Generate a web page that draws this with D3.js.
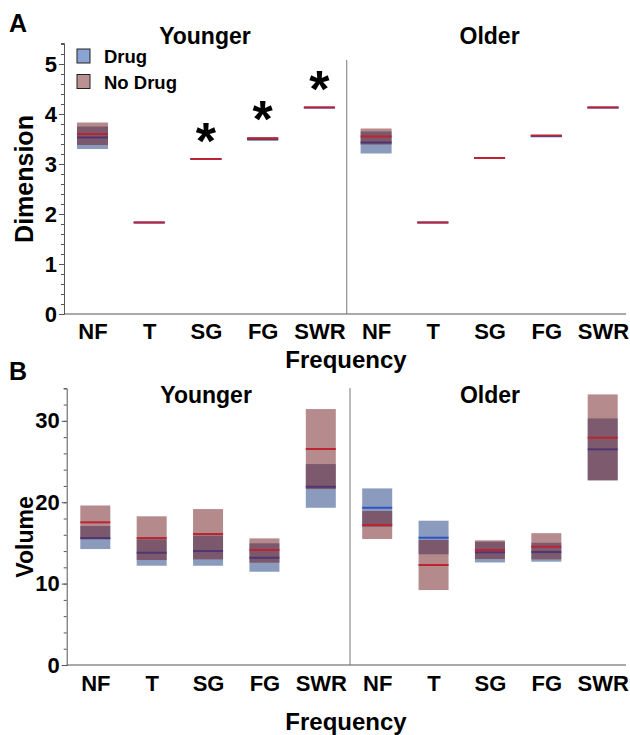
<!DOCTYPE html>
<html><head><meta charset="utf-8">
<script src="https://cdn.jsdelivr.net/npm/d3@7"></script>
<style>
body{margin:0;background:#fff;}
svg text{font-family:"Liberation Sans",Arial,Helvetica,sans-serif;font-weight:bold;fill:#000;}
</style></head>
<body><svg id="c" width="630" height="735"></svg>
<script>
// ---------- data ----------
const groups = ["Younger", "Older"];
const categories = ["NF", "T", "SG", "FG", "SWR"];
const seriesNames = ["Drug", "No Drug"];

// Panel A: Dimension (Younger NF..SWR, then Older NF..SWR)
const dimDrugMean = [3.53, 1.83, 3.10, 3.50, 4.13, 3.43, 1.83, 3.12, 3.555, 4.13];
const dimDrugLo   = [3.30, 1.82, 3.09, 3.46, 4.12, 3.21, 1.82, 3.11, 3.54, 4.12];
const dimDrugHi   = [3.75, 1.84, 3.11, 3.53, 4.14, 3.65, 1.84, 3.13, 3.565, 4.14];
const dimNoMean   = [3.60, 1.83, 3.10, 3.51, 4.13, 3.55, 1.83, 3.12, 3.57, 4.13];
const dimNoLo     = [3.38, 1.82, 3.09, 3.48, 4.12, 3.39, 1.82, 3.11, 3.555, 4.12];
const dimNoHi     = [3.83, 1.84, 3.11, 3.54, 4.14, 3.71, 1.84, 3.13, 3.58, 4.14];
const dimSignificant = [false, false, true, true, true, false, false, false, false, false];
const dimTicks = [0, 1, 2, 3, 4, 5];

// Panel B: Volume
const volDrugMean = [15.6, 13.8, 14.0, 13.18, 21.9, 19.32, 15.64, 13.84, 13.88, 26.5];
const volDrugLo   = [14.25, 12.2, 12.2, 11.46, 19.32, 16.99, 13.6, 12.6, 12.69, 22.69];
const volDrugHi   = [17.08, 15.44, 15.9, 14.95, 24.69, 21.7, 17.73, 15.15, 15.02, 30.3];
const volNoMean   = [17.53, 15.6, 16.1, 14.13, 26.54, 17.2, 12.29, 14.13, 14.53, 27.93];
const volNoLo     = [15.44, 12.9, 12.98, 12.57, 21.62, 15.48, 9.21, 13.02, 12.98, 22.69];
const volNoHi     = [19.6, 18.27, 19.16, 15.56, 31.45, 18.92, 15.36, 15.32, 16.2, 33.25];
const volSignificant = [false, false, false, false, false, false, false, false, false, false];
const volTicks = [0, 10, 20, 30];

// ---------- drawing ----------
const svg = d3.select("#c");
const keys = [];
groups.forEach(g => categories.forEach(c => keys.push(g + "|" + c)));

const drugFill = "rgb(25,57,125)", noFill = "rgb(109,24,30)";
const drugLine = "rgb(45,85,200)", noLine = "rgb(190,35,50)";
const FONT = '"Liberation Sans",Arial,sans-serif';

function panel(o) {
  const g = svg.append("g");
  const y = d3.scaleLinear().domain([0, o.yMax]).range([o.y0, o.yTop]);
  const x = d3.scalePoint().domain(keys).range(o.xRange);
  const bw = o.bw;

  // y axis
  const ax = g.append("g").attr("transform", `translate(${o.axisX},0)`)
    .call(d3.axisLeft(y).tickValues(d3.range(0, o.yMax + 1e-9, o.minor)).tickSize(3).tickFormat(""));
  ax.select(".domain").attr("stroke", "#555");
  ax.selectAll(".tick line").attr("stroke", "#555");
  const ax2 = g.append("g").attr("transform", `translate(${o.axisX},0)`)
    .call(d3.axisLeft(y).tickValues(o.ticks).tickSize(5).tickPadding(2).tickFormat(d3.format("d")));
  ax2.select(".domain").remove();
  ax2.selectAll(".tick line").attr("stroke", "#555");
  ax2.selectAll(".tick text").style("font-size", "22px").style("font-weight", "bold")
    .style("font-family", FONT).attr("fill", "#000");

  // x axis line
  g.append("line").attr("x1", o.axisX).attr("x2", 626).attr("y1", o.y0).attr("y2", o.y0)
    .attr("stroke", "#555").attr("stroke-width", 1);
  const xa = g.append("g").attr("transform", `translate(0,${o.y0})`)
    .call(d3.axisBottom(x).tickSize(0).tickPadding(o.labPad).tickFormat(k => k.split("|")[1]));
  xa.select(".domain").remove();
  xa.selectAll(".tick text").style("font-size", "22px").style("font-weight", "bold")
    .style("font-family", FONT).attr("fill", "#000");

  // divider
  const mid = (x(keys[4]) + x(keys[5])) / 2 + o.divShift;
  g.append("line").attr("x1", mid).attr("x2", mid).attr("y1", o.divTop).attr("y2", o.y0)
    .attr("stroke", "#777").attr("stroke-width", 1);

  // group titles
  groups.forEach((gr, gi) => {
    const cx = (x(keys[gi * 5]) + x(keys[gi * 5 + 4])) / 2 + o.titleShift[gi];
    g.append("text").attr("x", cx).attr("y", o.titleY).attr("text-anchor", "middle")
      .style("font-size", "23px").text(gr);
  });

  // Drug (drawn first)
  const dG = g.append("g").attr("opacity", 0.5);
  keys.forEach((k, i) => {
    dG.append("rect").attr("x", x(k) - bw / 2).attr("width", bw)
      .attr("y", y(o.dHi[i])).attr("height", Math.max(0.5, y(o.dLo[i]) - y(o.dHi[i])))
      .attr("fill", drugFill);
  });
  keys.forEach((k, i) => {
    g.append("line").attr("x1", x(k) - bw / 2).attr("x2", x(k) + bw / 2)
      .attr("y1", y(o.dMean[i])).attr("y2", y(o.dMean[i]))
      .attr("stroke", drugLine).attr("stroke-width", 2);
  });
  // No Drug on top
  const nG = g.append("g").attr("opacity", 0.5);
  keys.forEach((k, i) => {
    nG.append("rect").attr("x", x(k) - bw / 2).attr("width", bw)
      .attr("y", y(o.nHi[i])).attr("height", Math.max(0.5, y(o.nLo[i]) - y(o.nHi[i])))
      .attr("fill", noFill);
  });
  keys.forEach((k, i) => {
    g.append("line").attr("x1", x(k) - bw / 2).attr("x2", x(k) + bw / 2)
      .attr("y1", y(o.nMean[i])).attr("y2", y(o.nMean[i]))
      .attr("stroke", noLine).attr("stroke-width", 2);
  });

  // significance
  keys.forEach((k, i) => {
    if (!o.sig[i]) return;
    const top = Math.max(o.dHi[i], o.nHi[i]);
    g.append("text").attr("x", x(k)).attr("y", y(top))
      .attr("text-anchor", "middle").style("font-size", "52px").text("*");
  });

  // axis titles
  g.append("text").attr("transform", `translate(${o.yLabX},${o.yLabY}) rotate(-90)`)
    .attr("text-anchor", "middle").style("font-size", o.yLabSize + "px").text(o.yLabel);
  g.append("text").attr("x", 346).attr("y", o.xLabY).attr("text-anchor", "middle")
    .style("font-size", "24px").text("Frequency");
  g.append("text").attr("x", 9).attr("y", o.letterY).style("font-size", "25px").text(o.letter);
  return {x, y};
}

panel({
  letter: "A", letterY: 32, yMax: 5.42, y0: 314, yTop: 43, xRange: [92.5, 603], axisX: 64,
  bw: 31, ticks: dimTicks, minor: 0.2, labPad: 9, divShift: -1, divTop: 60,
  titleY: 44, titleShift: [-1, 0], yLabel: "Dimension", yLabX: 33, yLabY: 179, yLabSize: 25,
  xLabY: 368, dMean: dimDrugMean, dLo: dimDrugLo, dHi: dimDrugHi,
  nMean: dimNoMean, nLo: dimNoLo, nHi: dimNoHi, sig: dimSignificant
});
panel({
  letter: "B", letterY: 380, yMax: 34, y0: 665, yTop: 388.3, xRange: [95.3, 602.7], axisX: 66.7,
  bw: 30, ticks: volTicks, minor: 2, labPad: 10, divShift: 1, divTop: 388,
  titleY: 403, titleShift: [-2, 0], yLabel: "Volume", yLabX: 33, yLabY: 537, yLabSize: 23,
  xLabY: 730, dMean: volDrugMean, dLo: volDrugLo, dHi: volDrugHi,
  nMean: volNoMean, nLo: volNoLo, nHi: volNoHi, sig: volSignificant
});

// legend
const leg = svg.append("g");
const legFill = ["#8ba3d3", "#b99193"];
seriesNames.forEach((s, i) => {
  leg.append("rect").attr("x", 77).attr("y", 49 + i * 25.5).attr("width", 13).attr("height", 14)
    .attr("fill", legFill[i]).attr("stroke", "#222").attr("stroke-width", 1);
  leg.append("text").attr("x", 104).attr("y", 63 + i * 25.5).style("font-size", "18.5px").text(s);
});
</script></body></html>
